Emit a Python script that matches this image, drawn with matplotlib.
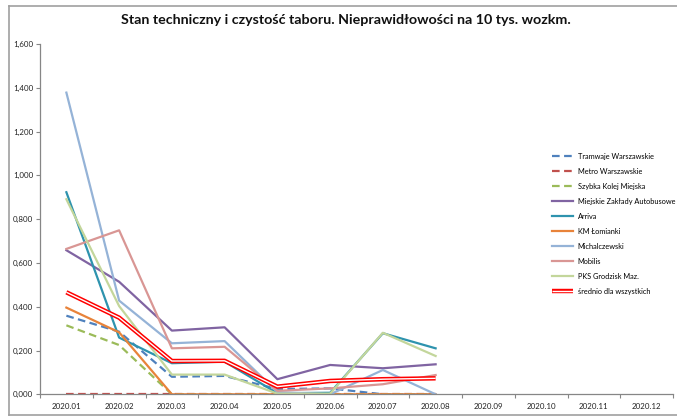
import numpy as np
import matplotlib
matplotlib.use('Agg')
import matplotlib.pyplot as plt
import matplotlib.patheffects as pe
from matplotlib.lines import Line2D

plt.rcParams['font.family'] = ['Lato', 'DejaVu Sans']
plt.rcParams['lines.scale_dashes'] = False

# categories (months) and series values
months = ['2020.01', '2020.02', '2020.03', '2020.04', '2020.05', '2020.06',
          '2020.07', '2020.08', '2020.09', '2020.10', '2020.11', '2020.12']

tramwaje = [0.359, 0.286, 0.080, 0.084, 0.024, 0.027, 0.000, 0.000]
metro = [0.000, 0.000, 0.000, 0.000, 0.000, 0.000, 0.000, 0.000]
skm = [0.315, 0.225, 0.000, 0.000, 0.000, 0.000, 0.000, 0.000]
mza = [0.658, 0.514, 0.291, 0.306, 0.069, 0.134, 0.119, 0.137]
arriva = [0.923, 0.259, 0.142, 0.149, 0.005, 0.007, 0.279, 0.210]
km_lomianki = [0.396, 0.283, 0.000, 0.000, 0.000, 0.000, 0.000, 0.000]
michalczewski = [1.378, 0.428, 0.233, 0.243, 0.010, 0.000, 0.111, 0.000]
mobilis = [0.664, 0.749, 0.210, 0.217, 0.016, 0.027, 0.046, 0.088]
pks = [0.891, 0.403, 0.090, 0.090, 0.003, 0.003, 0.281, 0.175]
srednio = [0.466, 0.350, 0.152, 0.153, 0.035, 0.061, 0.069, 0.073]

series_names = ['Tramwaje Warszawskie', 'Metro Warszawskie', 'Szybka Kolej Miejska',
                'Miejskie Zakłady Autobusowe', 'Arriva', 'KM Łomianki', 'Michalczewski',
                'Mobilis', 'PKS Grodzisk Maz.', 'średnio dla wszystkich']
series_values = [tramwaje, metro, skm, mza, arriva, km_lomianki, michalczewski,
                 mobilis, pks, srednio]

# styles per series
colors = ['#4F81BD', '#C0504D', '#9BBB59', '#8064A2', '#2E93AE', '#E8833A',
          '#95B3D7', '#D99694', '#C3D69B', '#FF0000']
dashed = [True, True, True, False, False, False, False, False, False, False]

W, H = 677, 417
fig = plt.figure(figsize=(W/100, H/100), dpi=100)
ax = fig.add_axes([40/W, 1-394.3/H, 633/W, 350.3/H])

x = np.arange(len(months))
for name, vals, col, dash in zip(series_names, series_values, colors, dashed):
    n = len(vals)
    if name.startswith('średnio'):
        # Excel style double line: red outline, white core
        ax.plot(x[:n], vals, color='white', lw=1.0, label=name, solid_capstyle='butt',
                path_effects=[pe.Stroke(linewidth=3.2, foreground='#FF0000'), pe.Normal()])
    elif dash:
        ax.plot(x[:n], vals, color=col, lw=1.6, dashes=(5.5, 3.2), label=name)
    else:
        ax.plot(x[:n], vals, color=col, lw=1.6, label=name)

ax.set_xlim(-0.5, len(months)-0.5)
ax.set_ylim(0, 1.6)
ax.set_yticks(np.arange(0, 1.61, 0.2))
ax.set_yticklabels([f'{v:.3f}'.replace('.', ',') for v in np.arange(0, 1.61, 0.2)])
ax.set_xticks(x)
ax.set_xticklabels(months)
ax.set_xticks(np.arange(-0.5, len(months), 1), minor=True)
ax.tick_params(axis='x', which='major', length=0, pad=6, labelsize=5.7, labelcolor='#222222')
ax.tick_params(axis='x', which='minor', length=3, color='#868686', width=0.8)
ax.tick_params(axis='y', length=3, color='#868686', width=0.8, pad=2, labelsize=5.7,
               labelcolor='#222222')
for s in ['top', 'right']:
    ax.spines[s].set_visible(False)
for s in ['left', 'bottom']:
    ax.spines[s].set_color('#868686')
    ax.spines[s].set_linewidth(0.9)

fig.text(346/W, 1-20/H, 'Stan techniczny i czystość taboru. Nieprawidłowości na 10 tys. wozkm.',
         ha='center', va='center', fontsize=10.3, fontweight='bold', color='#111111')

fig.legend(*ax.get_legend_handles_labels(), loc='upper left',
           bbox_to_anchor=(552/W, 1-153/H), frameon=False, fontsize=5.3,
           handlelength=2.9, handletextpad=0.6, labelspacing=1.08, borderaxespad=0,
           borderpad=0)

# chart area border
border = dict(color='#A0A0A0', lw=1.2, transform=fig.transFigure, clip_on=False)
fig.add_artist(Line2D([9/W, 1], [1-6/H, 1-6/H], **border))
fig.add_artist(Line2D([9/W, 9/W], [1-6/H, 1-415/H], **border))
fig.add_artist(Line2D([9/W, 1], [1-415/H, 1-415/H], **border))

fig.savefig('out.png', dpi=100)
